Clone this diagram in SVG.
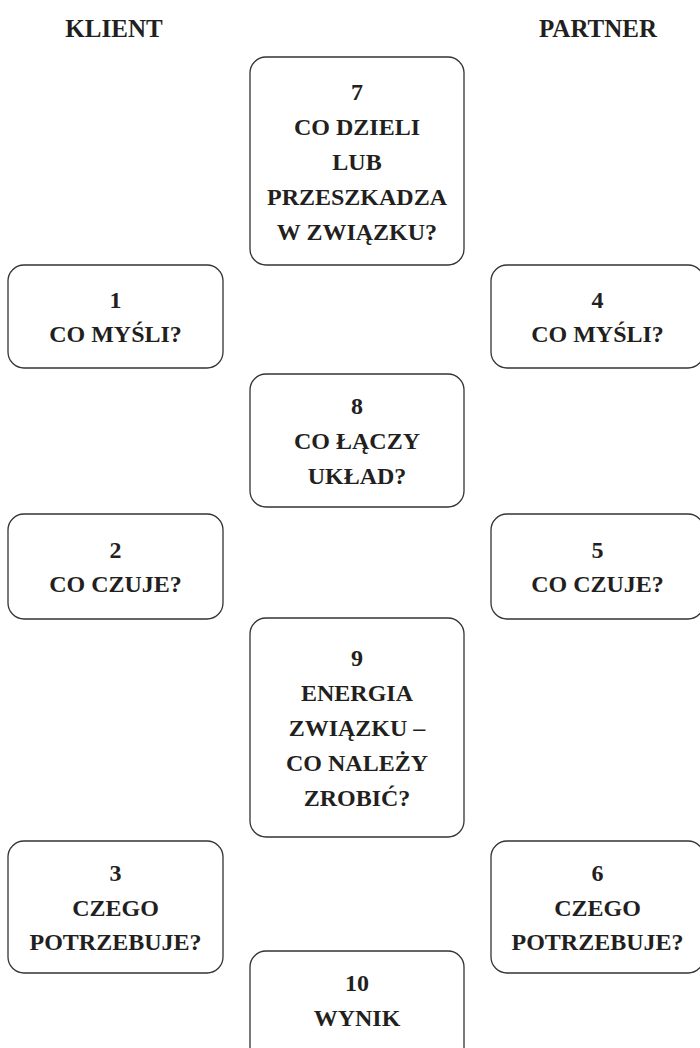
<svg xmlns="http://www.w3.org/2000/svg" width="700" height="1048" viewBox="0 0 700 1048">
<style>
  .box { fill: #ffffff; stroke: #333333; stroke-width: 1.3; }
  .t { font-family: "Liberation Serif", "DejaVu Serif", serif; font-weight: bold; font-size: 24px; fill: #231f20; text-anchor: middle; }
  .h { font-family: "Liberation Serif", "DejaVu Serif", serif; font-weight: bold; font-size: 25px; fill: #231f20; text-anchor: middle; }
</style>
<rect x="0" y="0" width="700" height="1048" fill="#ffffff"/>
<g id="headers">
  <text class="h" x="114" y="37">KLIENT</text>
  <text class="h" x="598" y="37">PARTNER</text>
</g>
<g id="connectors"></g>
<g id="node7">
  <rect class="box" x="250" y="57" width="214" height="208" rx="16" ry="16"/>
  <text class="t" x="357" y="100">7</text>
  <text class="t" x="357" y="135">CO DZIELI</text>
  <text class="t" x="357" y="170">LUB</text>
  <text class="t" x="357" y="205">PRZESZKADZA</text>
  <text class="t" x="357" y="240">W ZWIĄZKU?</text>
</g>
<g id="node1">
  <rect class="box" x="8" y="265" width="215" height="103" rx="16" ry="16"/>
  <text class="t" x="115.5" y="307.5">1</text>
  <text class="t" x="115.5" y="342">CO MYŚLI?</text>
</g>
<g id="node4">
  <rect class="box" x="491" y="265" width="213" height="103" rx="16" ry="16"/>
  <text class="t" x="597.5" y="307.5">4</text>
  <text class="t" x="597.5" y="342">CO MYŚLI?</text>
</g>
<g id="node8">
  <rect class="box" x="250" y="374" width="214" height="133" rx="16" ry="16"/>
  <text class="t" x="357" y="414">8</text>
  <text class="t" x="357" y="449">CO ŁĄCZY</text>
  <text class="t" x="357" y="484">UKŁAD?</text>
</g>
<g id="node2">
  <rect class="box" x="8" y="514" width="215" height="105" rx="16" ry="16"/>
  <text class="t" x="115.5" y="557.5">2</text>
  <text class="t" x="115.5" y="592">CO CZUJE?</text>
</g>
<g id="node5">
  <rect class="box" x="491" y="514" width="213" height="105" rx="16" ry="16"/>
  <text class="t" x="597.5" y="557.5">5</text>
  <text class="t" x="597.5" y="592">CO CZUJE?</text>
</g>
<g id="node9">
  <rect class="box" x="250" y="618" width="214" height="219" rx="16" ry="16"/>
  <text class="t" x="357" y="666">9</text>
  <text class="t" x="357" y="701">ENERGIA</text>
  <text class="t" x="357" y="736">ZWIĄZKU –</text>
  <text class="t" x="357" y="771">CO NALEŻY</text>
  <text class="t" x="357" y="806">ZROBIĆ?</text>
</g>
<g id="node3">
  <rect class="box" x="8" y="841" width="215" height="132" rx="16" ry="16"/>
  <text class="t" x="115.5" y="881">3</text>
  <text class="t" x="115.5" y="915.5">CZEGO</text>
  <text class="t" x="115.5" y="950">POTRZEBUJE?</text>
</g>
<g id="node6">
  <rect class="box" x="491" y="841" width="213" height="132" rx="16" ry="16"/>
  <text class="t" x="597.5" y="881">6</text>
  <text class="t" x="597.5" y="915.5">CZEGO</text>
  <text class="t" x="597.5" y="950">POTRZEBUJE?</text>
</g>
<g id="node10">
  <rect class="box" x="250" y="951" width="214" height="120" rx="16" ry="16"/>
  <text class="t" x="357" y="991">10</text>
  <text class="t" x="357" y="1025.5">WYNIK</text>
</g>
</svg>
